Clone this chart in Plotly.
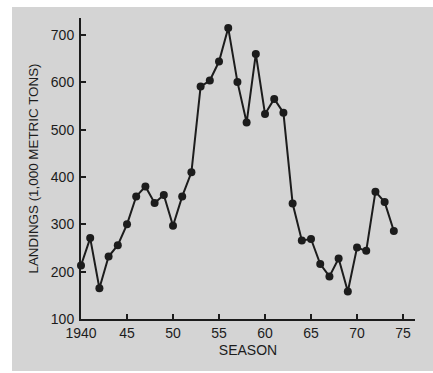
import plotly.graph_objects as go

years = list(range(1940, 1975))
landings = [213, 271, 165, 232, 256, 300, 359, 380, 345, 362, 297, 359, 410,
            591, 604, 644, 715, 601, 515, 660, 533, 565, 536, 344, 266, 269,
            216, 190, 228, 158, 251, 244, 369, 347, 286]
x_tickvals = [1940, 1945, 1950, 1955, 1960, 1965, 1970, 1975]
x_ticktext = ["1940", "45", "50", "55", "60", "65", "70", "75"]
y_tickvals = [100, 200, 300, 400, 500, 600, 700]

W, H = 433, 373
ml, mr, mt, mb = 81, 18, 18, 54
pw, ph = W - ml - mr, H - mt - mb

def px_x(p):
    return (p - ml) / pw

def px_y(p):
    return (H - mb - p) / ph

ink = "#1c1c1c"
fig = go.Figure()
fig.add_trace(go.Scatter(
    x=years, y=landings, mode="lines+markers",
    line=dict(color=ink, width=2),
    marker=dict(color=ink, size=8),
    showlegend=False, cliponaxis=False,
))

fig.add_shape(type="rect", xref="paper", yref="paper",
              x0=px_x(12), x1=px_x(433), y0=px_y(371), y1=px_y(7),
              fillcolor="#d4d4d4", line=dict(width=0), layer="below")

fam = "Liberation Sans, Arial, sans-serif"
font = dict(family=fam, size=14, color=ink)

fig.update_layout(
    width=W, height=H,
    margin=dict(l=ml, r=mr, t=mt, b=mb),
    paper_bgcolor="white", plot_bgcolor="rgba(0,0,0,0)",
    font=font,
    xaxis=dict(range=[1940, 1976.3], tickvals=x_tickvals, ticktext=x_ticktext,
               ticks="inside", ticklen=5, tickwidth=1.5, tickcolor=ink,
               showline=True, linecolor=ink, linewidth=2, showgrid=False,
               zeroline=False, tickfont=font,
               title=dict(text="SEASON", font=dict(family=fam, size=14, color=ink), standoff=5)),
    yaxis=dict(range=[100, 736], tickvals=y_tickvals,
               ticks="inside", ticklen=5, tickwidth=1.5, tickcolor=ink,
               showline=True, linecolor=ink, linewidth=2, showgrid=False,
               zeroline=False, tickfont=font, ticklabelstandoff=2,
               title=dict(text="LANDINGS (1,000 METRIC TONS)",
                          font=dict(family=fam, size=13.4, color=ink), standoff=9)),
)

fig.write_html("out.html")
